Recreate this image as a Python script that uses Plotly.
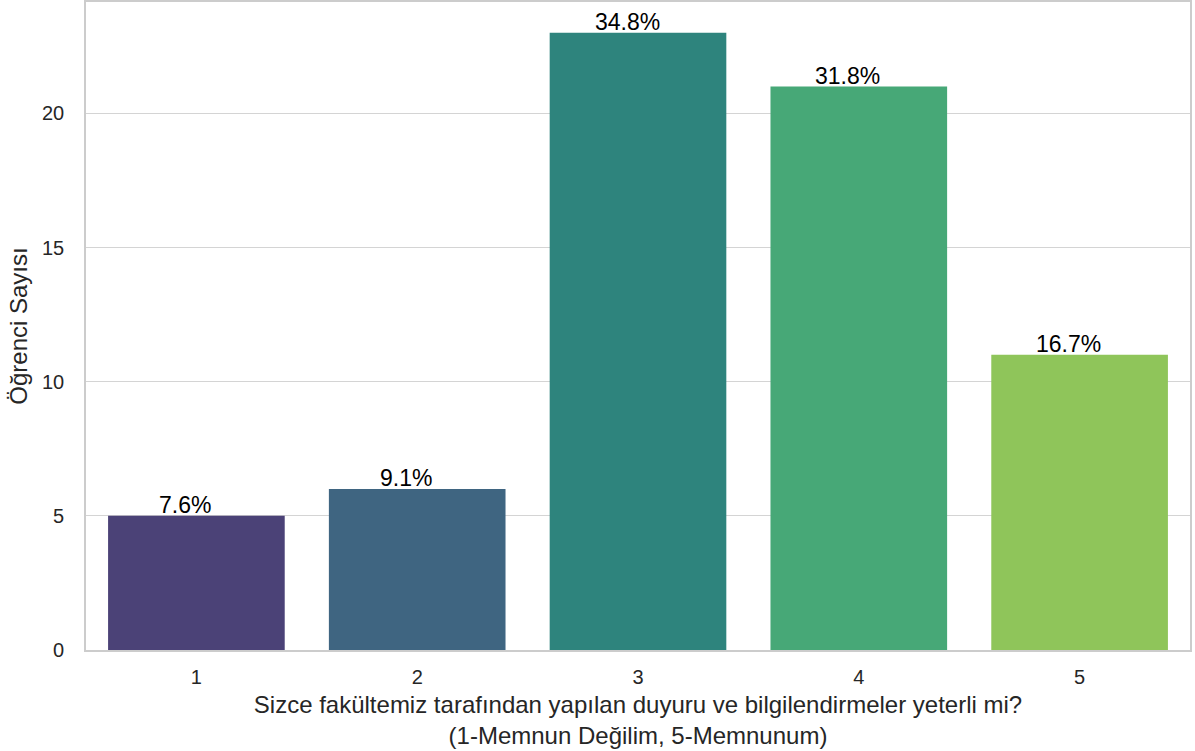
import plotly.graph_objects as go

categories = ["1", "2", "3", "4", "5"]
counts = [5, 6, 23, 21, 11]
percent_labels = ["7.6%", "9.1%", "34.8%", "31.8%", "16.7%"]
bar_colors = ["#4b4277", "#3f6581", "#2e847d", "#47a877", "#8fc55a"]
y_ticks = [0, 5, 10, 15, 20]

FONT = "Liberation Sans, Arial, Helvetica, sans-serif"

fig = go.Figure()
fig.add_trace(go.Bar(
    x=categories, y=counts,
    marker=dict(color=bar_colors, line=dict(width=0)),
    hoverinfo="x+y",
))

for i, (v, t) in enumerate(zip(counts, percent_labels)):
    fig.add_annotation(x=i, y=v, text=t, showarrow=False, yanchor="bottom",
                       yshift=-4, xshift=-11, font=dict(family=FONT, size=23, color="#000000"))

fig.update_layout(
    width=1195, height=751,
    margin=dict(l=86, r=5, t=2, b=101),
    paper_bgcolor="white", plot_bgcolor="white",
    bargap=0.2, showlegend=False,
    font=dict(family=FONT, color="#262626"),
)
fig.update_xaxes(
    type="category", range=[-0.5, 4.5], automargin=False,
    showline=True, mirror=True, linecolor="#cccccc", linewidth=1.6,
    showgrid=False, ticks="outside", ticklen=8, tickcolor="rgba(0,0,0,0)",
    tickfont=dict(family=FONT, size=20, color="#262626"),
    title=dict(text="Sizce fakültemiz tarafından yapılan duyuru ve bilgilendirmeler yeterli mi?<br>(1-Memnun Değilim, 5-Memnunum)",
               font=dict(family=FONT, size=24, color="#262626"), standoff=9),
    zeroline=False,
)
fig.update_yaxes(
    range=[0, 24.15], tickvals=y_ticks, automargin=False,
    showline=True, mirror=True, linecolor="#cccccc", linewidth=1.6,
    showgrid=True, gridcolor="#d4d4d4", gridwidth=1.4,
    ticks="outside", ticklen=16, tickcolor="rgba(0,0,0,0)",
    tickfont=dict(family=FONT, size=20, color="#262626"),
    title=dict(text="Öğrenci Sayısı", font=dict(family=FONT, size=24, color="#262626"), standoff=8),
    zeroline=False,
)

fig.write_html("out.html", config={"displayModeBar": False},
               post_script="document.body.style.margin='0';document.body.style.padding='0';")
